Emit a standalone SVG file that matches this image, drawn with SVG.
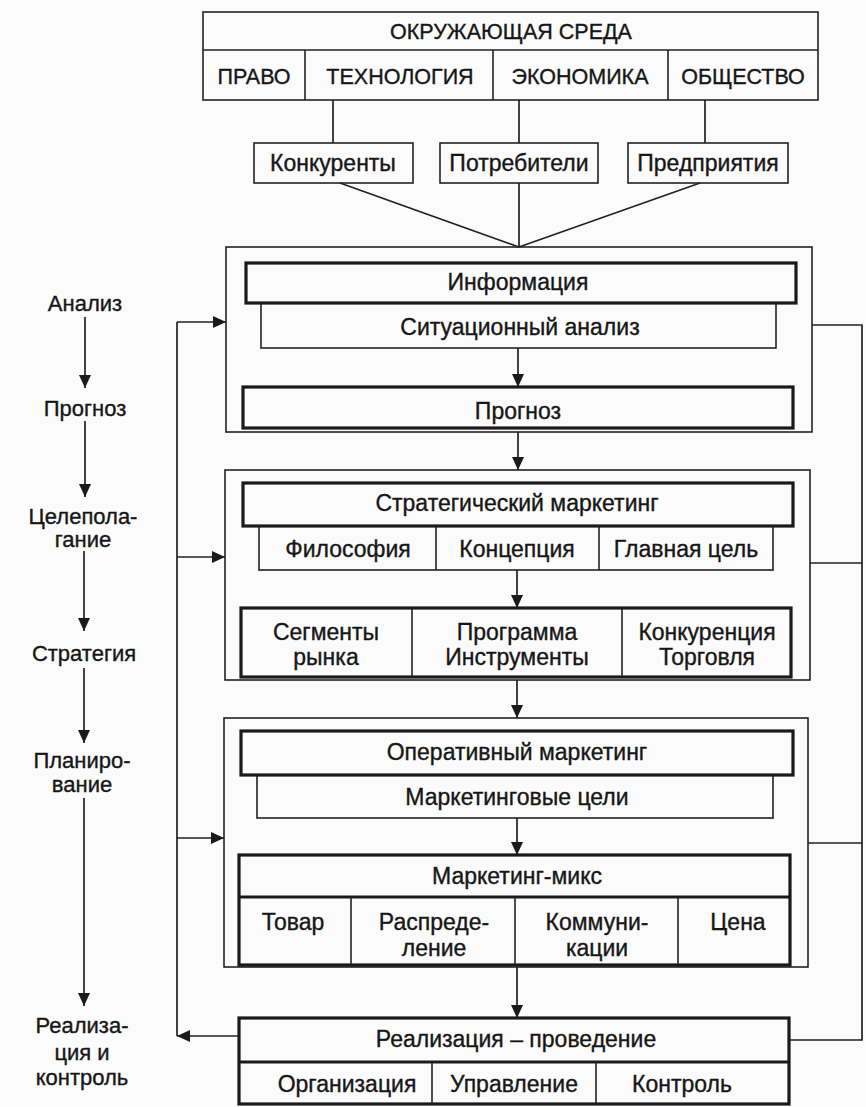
<svg xmlns="http://www.w3.org/2000/svg" width="866" height="1107" viewBox="0 0 866 1107">
<style>
.bg{fill:#fbfbfb}
.thin{fill:none;stroke:#222;stroke-width:1.6}
.thick{fill:none;stroke:#1a1a1a;stroke-width:3.2}
.fillw{fill:#fbfbfb}
.ln{fill:none;stroke:#222;stroke-width:1.7}
text{font-family:"Liberation Sans",Arial,sans-serif;font-size:23px;fill:#161616;stroke:#161616;stroke-width:0.35;text-anchor:middle;dominant-baseline:central}
.cap{font-size:21.5px}
.stg{font-size:22px}
</style>
<defs>
<marker id="ah" viewBox="0 0 13 12" refX="13" refY="6" markerWidth="13" markerHeight="12" markerUnits="userSpaceOnUse" orient="auto">
<path d="M0,0 L13,6 L0,12 z" fill="#1a1a1a"/>
</marker>
</defs>
<rect class="bg" x="0" y="0" width="866" height="1107"/>

<g id="connectors">
<line class="ln" x1="333" y1="100" x2="333" y2="143"/>
<line class="ln" x1="519" y1="100" x2="519" y2="143"/>
<line class="ln" x1="705" y1="100" x2="705" y2="143"/>
<line class="ln" x1="340" y1="183" x2="519" y2="247"/>
<line class="ln" x1="519" y1="183" x2="519" y2="247"/>
<line class="ln" x1="700" y1="183" x2="519" y2="247"/>
<line class="ln" x1="518" y1="348" x2="518" y2="387" marker-end="url(#ah)"/>
<line class="ln" x1="518" y1="432" x2="518" y2="470" marker-end="url(#ah)"/>
<line class="ln" x1="517" y1="570" x2="517" y2="608" marker-end="url(#ah)"/>
<line class="ln" x1="517" y1="680" x2="517" y2="718" marker-end="url(#ah)"/>
<line class="ln" x1="517" y1="818" x2="517" y2="855" marker-end="url(#ah)"/>
<line class="ln" x1="517" y1="967" x2="517" y2="1018" marker-end="url(#ah)"/>
<line class="ln" x1="85" y1="317" x2="85" y2="388" marker-end="url(#ah)"/>
<line class="ln" x1="85" y1="421" x2="85" y2="497" marker-end="url(#ah)"/>
<line class="ln" x1="84" y1="551" x2="84" y2="631" marker-end="url(#ah)"/>
<line class="ln" x1="84" y1="668" x2="84" y2="743" marker-end="url(#ah)"/>
<line class="ln" x1="84" y1="798" x2="84" y2="1006" marker-end="url(#ah)"/>
<line class="ln" x1="177" y1="1036" x2="177" y2="322"/>
<line class="ln" x1="177" y1="322" x2="226" y2="322" marker-end="url(#ah)"/>
<line class="ln" x1="177" y1="557" x2="225" y2="557" marker-end="url(#ah)"/>
<line class="ln" x1="177" y1="838" x2="224" y2="838" marker-end="url(#ah)"/>
<line class="ln" x1="239" y1="1036" x2="177" y2="1036" marker-end="url(#ah)"/>
<polyline class="ln" points="812,325 862,325 862,1040 789,1040"/>
<line class="ln" x1="810" y1="563" x2="862" y2="563"/>
<line class="ln" x1="808" y1="843" x2="862" y2="843"/>
</g>

<g id="env">
<rect class="thin" x="203" y="12" width="615" height="88"/>
<line class="thin" x1="203" y1="50" x2="818" y2="50"/>
<line class="thin" x1="305" y1="50" x2="305" y2="100"/>
<line class="thin" x1="493" y1="50" x2="493" y2="100"/>
<line class="thin" x1="668" y1="50" x2="668" y2="100"/>
<text class="cap" x="511" y="32">ОКРУЖАЮЩАЯ СРЕДА</text>
<text class="cap" x="254" y="77">ПРАВО</text>
<text class="cap" x="400" y="77">ТЕХНОЛОГИЯ</text>
<text class="cap" x="580" y="77">ЭКОНОМИКА</text>
<text class="cap" x="743" y="77">ОБЩЕСТВО</text>
</g>

<g id="competitors">
<rect class="thin" x="254" y="143" width="159" height="40"/>
<text x="333" y="163">Конкуренты</text>
</g>
<g id="consumers">
<rect class="thin" x="440" y="143" width="158" height="40"/>
<text x="519" y="163">Потребители</text>
</g>
<g id="enterprises">
<rect class="thin" x="628" y="143" width="160" height="40"/>
<text x="708" y="163">Предприятия</text>
</g>

<g id="analysis">
<rect class="thin" x="226" y="247" width="586" height="185"/>
<rect class="thin" x="261" y="303" width="515" height="45"/>
<rect class="thick fillw" x="246" y="263" width="550" height="40"/>
<text x="518" y="282">Информация</text>
<text x="520" y="327">Ситуационный анализ</text>
<rect class="thick" x="243" y="387" width="550" height="41"/>
<text x="518" y="411">Прогноз</text>
</g>

<g id="strategic">
<rect class="thin" x="225" y="470" width="585" height="210"/>
<rect class="thin" x="259" y="526" width="514" height="44"/>
<line class="thin" x1="436" y1="526" x2="436" y2="570"/>
<line class="thin" x1="599" y1="526" x2="599" y2="570"/>
<rect class="thick fillw" x="243" y="483" width="550" height="43"/>
<text x="517" y="503">Стратегический маркетинг</text>
<text x="348" y="549">Философия</text>
<text x="517" y="549">Концепция</text>
<text x="686" y="549">Главная цель</text>
<rect class="thick" x="241" y="608" width="550" height="69"/>
<line class="thin" x1="412" y1="608" x2="412" y2="677"/>
<line class="thin" x1="622" y1="608" x2="622" y2="677"/>
<text x="326" y="632">Сегменты</text>
<text x="326" y="657">рынка</text>
<text x="517" y="632">Программа</text>
<text x="517" y="657">Инструменты</text>
<text x="707" y="632">Конкуренция</text>
<text x="707" y="657">Торговля</text>
</g>

<g id="operative">
<rect class="thin" x="224" y="718" width="584" height="249"/>
<rect class="thin" x="257" y="775" width="516" height="43"/>
<rect class="thick fillw" x="241" y="731" width="552" height="44"/>
<text x="517" y="752">Оперативный маркетинг</text>
<text x="517" y="797">Маркетинговые цели</text>
<rect class="thick" x="239" y="855" width="551" height="110"/>
<line class="thick" x1="239" y1="897" x2="790" y2="897"/>
<line class="thin" x1="351" y1="897" x2="351" y2="965"/>
<line class="thin" x1="515" y1="897" x2="515" y2="965"/>
<line class="thin" x1="678" y1="897" x2="678" y2="965"/>
<text x="517" y="876">Маркетинг-микс</text>
<text x="293" y="922">Товар</text>
<text x="434" y="922">Распреде-</text>
<text x="434" y="948">ление</text>
<text x="597" y="922">Коммуни-</text>
<text x="597" y="948">кации</text>
<text x="738" y="922">Цена</text>
</g>

<g id="implementation">
<rect class="thick" x="239" y="1018" width="550" height="86"/>
<line class="thick" x1="239" y1="1062" x2="789" y2="1062"/>
<line class="thin" x1="432" y1="1062" x2="432" y2="1104"/>
<line class="thin" x1="596" y1="1062" x2="596" y2="1104"/>
<text x="516" y="1039">Реализация – проведение</text>
<text x="347" y="1084">Организация</text>
<text x="514" y="1084">Управление</text>
<text x="682" y="1084">Контроль</text>
</g>

<g id="stages">
<text class="stg" x="85" y="303">Анализ</text>
<text class="stg" x="85" y="408">Прогноз</text>
<text class="stg" x="83" y="516">Целепола-</text>
<text class="stg" x="83" y="539">гание</text>
<text class="stg" x="84" y="653">Стратегия</text>
<text class="stg" x="82" y="760">Планиро-</text>
<text class="stg" x="82" y="784">вание</text>
<text class="stg" x="82" y="1025">Реализа-</text>
<text class="stg" x="82" y="1052">ция и</text>
<text class="stg" x="82" y="1077">контроль</text>
</g>
</svg>
